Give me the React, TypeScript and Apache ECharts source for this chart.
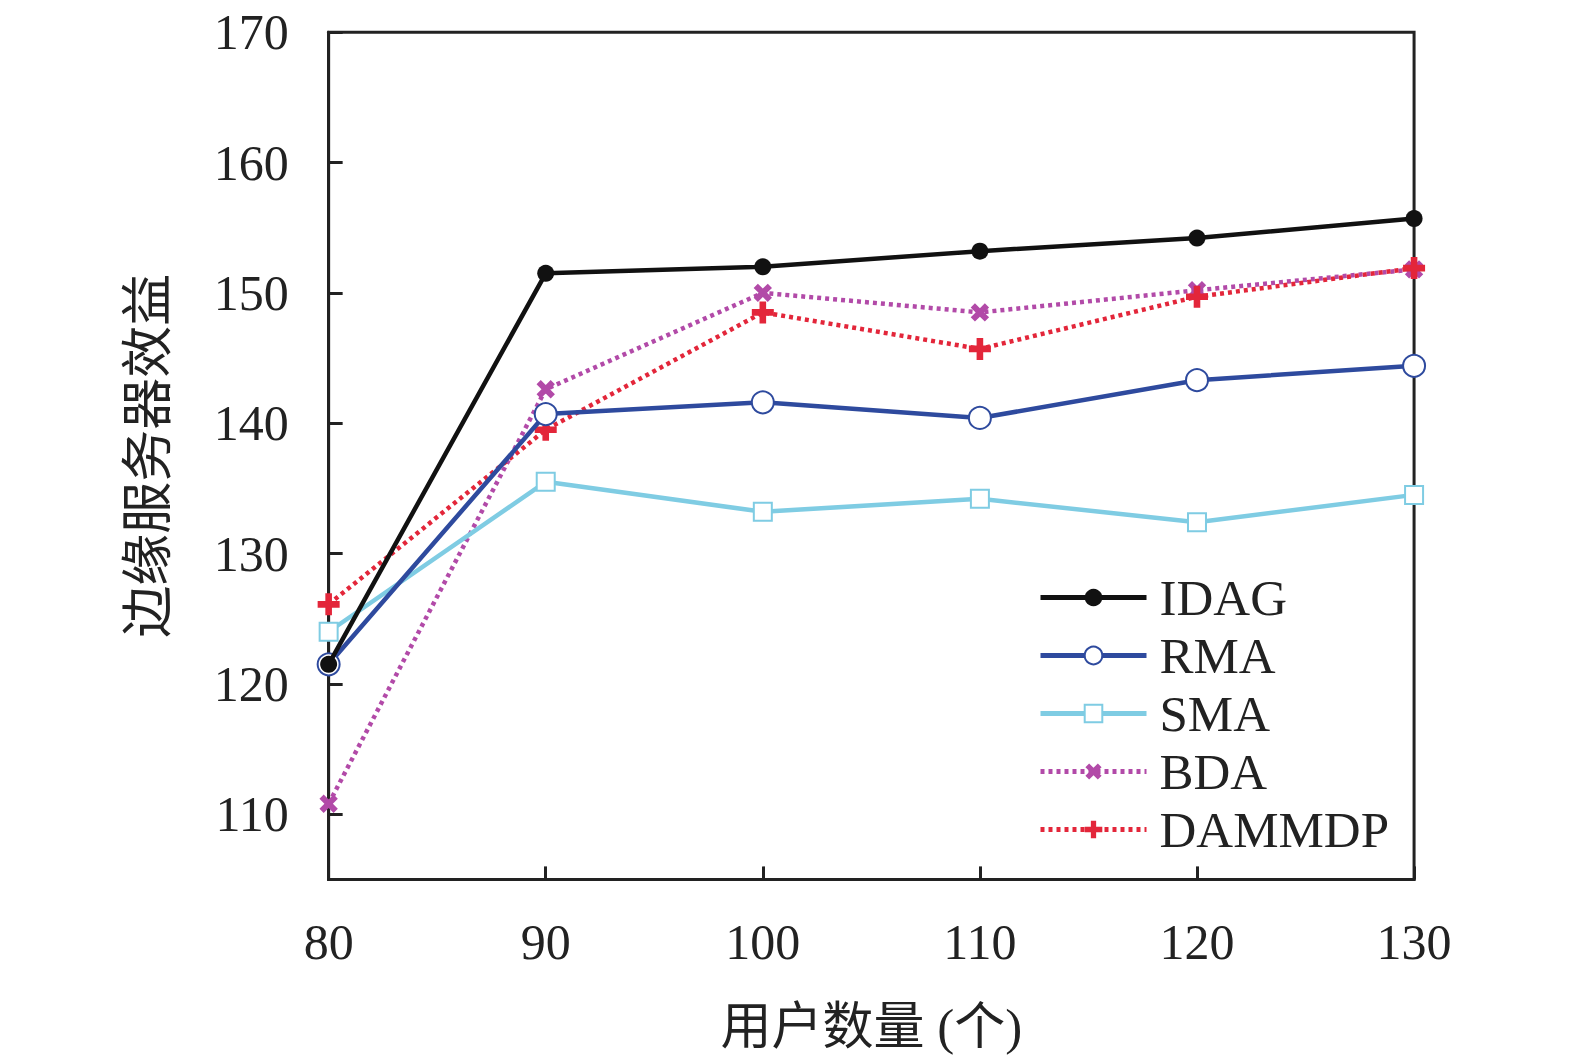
import React, { useEffect, useRef } from "react";
import * as echarts from "echarts";

const xValues = [80, 90, 100, 110, 120, 130];
const idag = [121.5, 151.5, 152.0, 153.2, 154.2, 155.7];
const rma = [121.5, 140.7, 141.6, 140.4, 143.3, 144.4];
const sma = [124.0, 135.5, 133.2, 134.2, 132.4, 134.5];
const bda = [110.8, 142.6, 150.0, 148.5, 150.2, 151.8];
const dammdp = [126.1, 139.5, 148.5, 145.7, 149.7, 151.9];
const yTicks = [110, 120, 130, 140, 150, 160, 170];
const seriesNames = ["IDAG", "RMA", "SMA", "BDA", "DAMMDP"];

const FONT = "'Liberation Serif', 'Noto Sans CJK SC', serif";
const PLUS = "path://M7,0h6v7h7v6h-7v7h-6v-7h-7v-6h7z";
const K = 1 / 0.995;

export default function App() {
  const ref = useRef<HTMLDivElement>(null);
  useEffect(() => {
    if (!ref.current) return;
    const chart = echarts.init(ref.current, null, { renderer: "svg" });
    const W = chart.getWidth();
    const H = chart.getHeight();
    const pairs = (ys: number[]) => xValues.map((x, i) => [x, ys[i]]);
    chart.setOption({
      animation: false,
      backgroundColor: "#ffffff",
      grid: {
        left: 327 * K,
        top: 32 * K,
        right: W - 1407 * K,
        bottom: H - 875 * K,
        outerBoundsMode: "none",
        containLabel: false,
        show: true,
        borderColor: "#222222",
        borderWidth: 3,
      },
      xAxis: {
        type: "value",
        min: 80,
        max: 130,
        interval: 10,
        name: "用户数量 (个)",
        nameLocation: "middle",
        nameGap: 122,
        nameTextStyle: { fontFamily: FONT, fontSize: 51, color: "#222" },
        axisLine: { show: true, lineStyle: { color: "#222222", width: 3 } },
        axisTick: { show: true, inside: true, length: 13, lineStyle: { color: "#222", width: 3 } },
        axisLabel: { margin: 38, fontFamily: FONT, fontSize: 50, color: "#222" },
        splitLine: { show: false },
      },
      yAxis: {
        type: "value",
        min: 105,
        max: 170,
        name: "边缘服务器效益",
        nameLocation: "middle",
        nameGap: 154,
        nameRotate: 90,
        nameTextStyle: { fontFamily: FONT, fontSize: 52, color: "#222" },
        axisLine: { show: true, lineStyle: { color: "#222222", width: 3 } },
        axisTick: {
          show: true,
          inside: true,
          length: 14,
          customValues: yTicks,
          lineStyle: { color: "#222", width: 3 },
        },
        axisLabel: {
          margin: 40,
          fontFamily: FONT,
          fontSize: 50,
          color: "#222",
          customValues: yTicks,
        },
        splitLine: { show: false },
      },
      legend: {
        orient: "vertical",
        left: 1033,
        top: 567,
        itemWidth: 106,
        itemHeight: 22,
        itemGap: 7,
        data: seriesNames,
        lineStyle: { width: 5 },
        textStyle: { fontFamily: FONT, fontSize: 51, color: "#222", lineHeight: 51, padding: [0, 0, 0, 8] },
      },
      series: [
        {
          name: "IDAG",
          type: "line",
          data: pairs(idag),
          symbol: "circle",
          symbolSize: 17,
          lineStyle: { color: "#111111", width: 4.5 },
          itemStyle: { color: "#111111" },
          z: 5,
        },
        {
          name: "RMA",
          type: "line",
          data: pairs(rma),
          symbol: "emptyCircle",
          symbolSize: 22,
          lineStyle: { color: "#2e4a9e", width: 4.5 },
          itemStyle: { color: "#2e4a9e", borderWidth: 4 },
          z: 4,
        },
        {
          name: "SMA",
          type: "line",
          data: pairs(sma),
          symbol: "emptyRect",
          symbolSize: 18,
          lineStyle: { color: "#7fcce3", width: 4.5 },
          itemStyle: { color: "#7fcce3", borderWidth: 4 },
          z: 3,
        },
        {
          name: "BDA",
          type: "line",
          data: pairs(bda),
          symbol: PLUS,
          symbolRotate: 45,
          symbolSize: 20,
          lineStyle: { color: "#b24aa8", width: 4.5, type: [4, 4] },
          itemStyle: { color: "#b24aa8" },
          z: 2,
        },
        {
          name: "DAMMDP",
          type: "line",
          data: pairs(dammdp),
          symbol: PLUS,
          symbolSize: 22,
          lineStyle: { color: "#e3263a", width: 4.5, type: [4, 4] },
          itemStyle: { color: "#e3263a" },
          z: 2,
        },
      ],
    });
    return () => chart.dispose();
  }, []);
  return (
    <div
      ref={ref}
      style={{ position: "fixed", left: 0, top: 0, width: "100vw", height: "100vh", background: "#fff" }}
    />
  );
}
